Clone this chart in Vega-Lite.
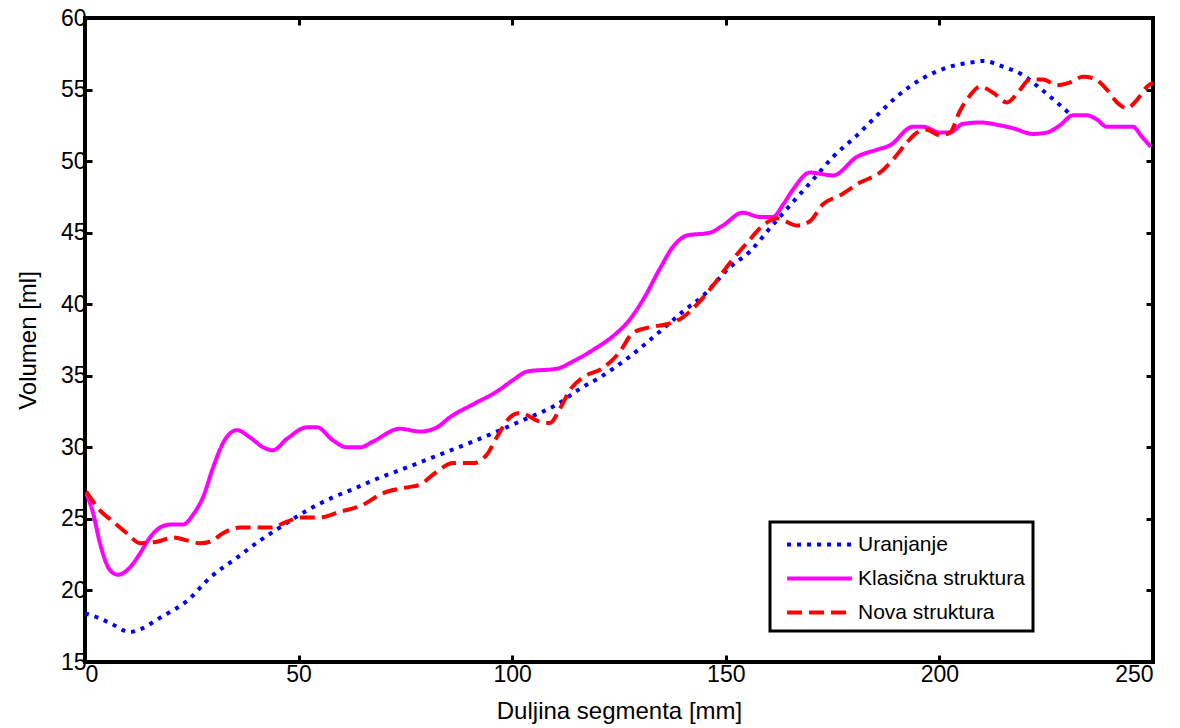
{
  "$schema": "https://vega.github.io/schema/vega-lite/v6.json",
  "width": 1068,
  "height": 644,
  "autosize": {"type": "none"},
  "padding": {"left": 85, "top": 18, "right": 27, "bottom": 66},
  "background": "white",
  "config": {
    "font": "Liberation Sans",
    "view": {"stroke": "black", "strokeWidth": 4, "fill": "white"},
    "axis": {
      "domain": false,
      "grid": false,
      "tickColor": "black",
      "tickWidth": 3,
      "tickSize": -7,
      "labelFont": "Liberation Sans",
      "labelFontSize": 23,
      "labelColor": "black",
      "titleFont": "Liberation Sans",
      "titleFontSize": 24,
      "titleFontWeight": "normal",
      "titleColor": "black"
    }
  },
  "datasets": {
    "d": [
      {"x": 0, "v": 18.4, "s": "Uranjanje"},
      {"x": 3, "v": 18.1, "s": "Uranjanje"},
      {"x": 6, "v": 17.7, "s": "Uranjanje"},
      {"x": 10.5, "v": 17.1, "s": "Uranjanje"},
      {"x": 13, "v": 17.3, "s": "Uranjanje"},
      {"x": 17.6, "v": 18.1, "s": "Uranjanje"},
      {"x": 24, "v": 19.3, "s": "Uranjanje"},
      {"x": 29.3, "v": 20.9, "s": "Uranjanje"},
      {"x": 35.6, "v": 22.3, "s": "Uranjanje"},
      {"x": 41, "v": 23.5, "s": "Uranjanje"},
      {"x": 45.6, "v": 24.4, "s": "Uranjanje"},
      {"x": 52, "v": 25.6, "s": "Uranjanje"},
      {"x": 58, "v": 26.5, "s": "Uranjanje"},
      {"x": 63.7, "v": 27.2, "s": "Uranjanje"},
      {"x": 67.5, "v": 27.7, "s": "Uranjanje"},
      {"x": 75.4, "v": 28.6, "s": "Uranjanje"},
      {"x": 83.1, "v": 29.5, "s": "Uranjanje"},
      {"x": 90.8, "v": 30.4, "s": "Uranjanje"},
      {"x": 96.4, "v": 31.1, "s": "Uranjanje"},
      {"x": 102.5, "v": 31.9, "s": "Uranjanje"},
      {"x": 110.5, "v": 33.0, "s": "Uranjanje"},
      {"x": 115.9, "v": 34.1, "s": "Uranjanje"},
      {"x": 120.6, "v": 34.9, "s": "Uranjanje"},
      {"x": 126.9, "v": 36.2, "s": "Uranjanje"},
      {"x": 134.6, "v": 38.1, "s": "Uranjanje"},
      {"x": 140, "v": 39.5, "s": "Uranjanje"},
      {"x": 144.7, "v": 40.6, "s": "Uranjanje"},
      {"x": 151, "v": 42.6, "s": "Uranjanje"},
      {"x": 155.7, "v": 43.7, "s": "Uranjanje"},
      {"x": 160.3, "v": 45.3, "s": "Uranjanje"},
      {"x": 165, "v": 46.9, "s": "Uranjanje"},
      {"x": 170.4, "v": 48.7, "s": "Uranjanje"},
      {"x": 175.1, "v": 50.3, "s": "Uranjanje"},
      {"x": 180.7, "v": 51.8, "s": "Uranjanje"},
      {"x": 186.1, "v": 53.4, "s": "Uranjanje"},
      {"x": 190, "v": 54.5, "s": "Uranjanje"},
      {"x": 196.2, "v": 55.8, "s": "Uranjanje"},
      {"x": 202.5, "v": 56.6, "s": "Uranjanje"},
      {"x": 207.6, "v": 56.9, "s": "Uranjanje"},
      {"x": 210.2, "v": 57.0, "s": "Uranjanje"},
      {"x": 214.9, "v": 56.6, "s": "Uranjanje"},
      {"x": 219.6, "v": 56.0, "s": "Uranjanje"},
      {"x": 223.5, "v": 55.1, "s": "Uranjanje"},
      {"x": 227.5, "v": 54.1, "s": "Uranjanje"},
      {"x": 230.5, "v": 53.3, "s": "Uranjanje"},

      {"x": 0.3, "v": 26.8, "s": "Klasična struktura"},
      {"x": 1.9, "v": 25.4, "s": "Klasična struktura"},
      {"x": 3.5, "v": 23.3, "s": "Klasična struktura"},
      {"x": 5.9, "v": 21.4, "s": "Klasična struktura"},
      {"x": 7.7, "v": 21.1, "s": "Klasična struktura"},
      {"x": 10.5, "v": 21.6, "s": "Klasična struktura"},
      {"x": 12.9, "v": 22.6, "s": "Klasična struktura"},
      {"x": 15.2, "v": 23.7, "s": "Klasična struktura"},
      {"x": 17.6, "v": 24.4, "s": "Klasična struktura"},
      {"x": 19.9, "v": 24.6, "s": "Klasična struktura"},
      {"x": 22.9, "v": 24.6, "s": "Klasična struktura"},
      {"x": 25.3, "v": 25.3, "s": "Klasična struktura"},
      {"x": 27.6, "v": 26.5, "s": "Klasična struktura"},
      {"x": 30, "v": 28.6, "s": "Klasična struktura"},
      {"x": 32.3, "v": 30.3, "s": "Klasična struktura"},
      {"x": 35.6, "v": 31.2, "s": "Klasična struktura"},
      {"x": 38.6, "v": 30.7, "s": "Klasična struktura"},
      {"x": 41.7, "v": 30.0, "s": "Klasična struktura"},
      {"x": 44, "v": 29.8, "s": "Klasična struktura"},
      {"x": 47.3, "v": 30.6, "s": "Klasična struktura"},
      {"x": 52, "v": 31.4, "s": "Klasična struktura"},
      {"x": 54.3, "v": 31.4, "s": "Klasična struktura"},
      {"x": 58, "v": 30.5, "s": "Klasična struktura"},
      {"x": 61.3, "v": 30.0, "s": "Klasična struktura"},
      {"x": 64.4, "v": 30.0, "s": "Klasična struktura"},
      {"x": 67.4, "v": 30.4, "s": "Klasična struktura"},
      {"x": 73.7, "v": 31.3, "s": "Klasična struktura"},
      {"x": 78.4, "v": 31.1, "s": "Klasična struktura"},
      {"x": 82.4, "v": 31.4, "s": "Klasična struktura"},
      {"x": 85.4, "v": 32.1, "s": "Klasična struktura"},
      {"x": 90.8, "v": 33.0, "s": "Klasična struktura"},
      {"x": 96.4, "v": 33.9, "s": "Klasična struktura"},
      {"x": 100.2, "v": 34.7, "s": "Klasična struktura"},
      {"x": 103.5, "v": 35.3, "s": "Klasična struktura"},
      {"x": 110.5, "v": 35.5, "s": "Klasična struktura"},
      {"x": 114.2, "v": 36.0, "s": "Klasična struktura"},
      {"x": 118.9, "v": 36.8, "s": "Klasična struktura"},
      {"x": 124.5, "v": 38.0, "s": "Klasična struktura"},
      {"x": 126.9, "v": 38.7, "s": "Klasična struktura"},
      {"x": 130.6, "v": 40.3, "s": "Klasična struktura"},
      {"x": 134.6, "v": 42.5, "s": "Klasična struktura"},
      {"x": 137.6, "v": 44.0, "s": "Klasična struktura"},
      {"x": 140.9, "v": 44.8, "s": "Klasična struktura"},
      {"x": 146.3, "v": 45.0, "s": "Klasična struktura"},
      {"x": 149.3, "v": 45.5, "s": "Klasična struktura"},
      {"x": 154, "v": 46.4, "s": "Klasična struktura"},
      {"x": 158, "v": 46.1, "s": "Klasična struktura"},
      {"x": 161, "v": 46.1, "s": "Klasična struktura"},
      {"x": 163.5, "v": 47.0, "s": "Klasična struktura"},
      {"x": 165.7, "v": 48.0, "s": "Klasična struktura"},
      {"x": 169.7, "v": 49.2, "s": "Klasična struktura"},
      {"x": 175.1, "v": 49.0, "s": "Klasična struktura"},
      {"x": 180.7, "v": 50.3, "s": "Klasična struktura"},
      {"x": 185.4, "v": 50.8, "s": "Klasična struktura"},
      {"x": 188.4, "v": 51.1, "s": "Klasična struktura"},
      {"x": 193.8, "v": 52.4, "s": "Klasična struktura"},
      {"x": 196.2, "v": 52.4, "s": "Klasična struktura"},
      {"x": 200.1, "v": 52.0, "s": "Klasična struktura"},
      {"x": 202.5, "v": 52.0, "s": "Klasična struktura"},
      {"x": 205.5, "v": 52.6, "s": "Klasična struktura"},
      {"x": 209.5, "v": 52.7, "s": "Klasična struktura"},
      {"x": 214.2, "v": 52.5, "s": "Klasična struktura"},
      {"x": 217.2, "v": 52.3, "s": "Klasična struktura"},
      {"x": 221.9, "v": 51.9, "s": "Klasična struktura"},
      {"x": 225.2, "v": 52.0, "s": "Klasična struktura"},
      {"x": 228.2, "v": 52.5, "s": "Klasična struktura"},
      {"x": 231.3, "v": 53.2, "s": "Klasična struktura"},
      {"x": 234.5, "v": 53.2, "s": "Klasična struktura"},
      {"x": 236.9, "v": 52.9, "s": "Klasična struktura"},
      {"x": 239.2, "v": 52.4, "s": "Klasična struktura"},
      {"x": 243, "v": 52.4, "s": "Klasična struktura"},
      {"x": 245.3, "v": 52.4, "s": "Klasična struktura"},
      {"x": 247.4, "v": 51.7, "s": "Klasična struktura"},
      {"x": 249.5, "v": 51.0, "s": "Klasična struktura"},

      {"x": 0.3, "v": 26.9, "s": "Nova struktura"},
      {"x": 3.5, "v": 25.6, "s": "Nova struktura"},
      {"x": 6.6, "v": 24.8, "s": "Nova struktura"},
      {"x": 9.8, "v": 24.0, "s": "Nova struktura"},
      {"x": 12.9, "v": 23.3, "s": "Nova struktura"},
      {"x": 16.9, "v": 23.4, "s": "Nova struktura"},
      {"x": 20.6, "v": 23.7, "s": "Nova struktura"},
      {"x": 23.9, "v": 23.5, "s": "Nova struktura"},
      {"x": 26.9, "v": 23.3, "s": "Nova struktura"},
      {"x": 29.3, "v": 23.4, "s": "Nova struktura"},
      {"x": 32.3, "v": 24.0, "s": "Nova struktura"},
      {"x": 36.3, "v": 24.4, "s": "Nova struktura"},
      {"x": 40.3, "v": 24.4, "s": "Nova struktura"},
      {"x": 43.3, "v": 24.4, "s": "Nova struktura"},
      {"x": 47.3, "v": 24.8, "s": "Nova struktura"},
      {"x": 50.3, "v": 25.1, "s": "Nova struktura"},
      {"x": 55, "v": 25.1, "s": "Nova struktura"},
      {"x": 59.7, "v": 25.5, "s": "Nova struktura"},
      {"x": 64.5, "v": 25.9, "s": "Nova struktura"},
      {"x": 69.8, "v": 26.8, "s": "Nova struktura"},
      {"x": 75.4, "v": 27.2, "s": "Nova struktura"},
      {"x": 78.4, "v": 27.4, "s": "Nova struktura"},
      {"x": 82.4, "v": 28.3, "s": "Nova struktura"},
      {"x": 86.1, "v": 28.9, "s": "Nova struktura"},
      {"x": 90.8, "v": 28.9, "s": "Nova struktura"},
      {"x": 94.1, "v": 29.5, "s": "Nova struktura"},
      {"x": 96.4, "v": 30.7, "s": "Nova struktura"},
      {"x": 99.5, "v": 32.1, "s": "Nova struktura"},
      {"x": 101.8, "v": 32.4, "s": "Nova struktura"},
      {"x": 106.5, "v": 31.8, "s": "Nova struktura"},
      {"x": 108.8, "v": 31.7, "s": "Nova struktura"},
      {"x": 111.2, "v": 32.7, "s": "Nova struktura"},
      {"x": 113.5, "v": 34.0, "s": "Nova struktura"},
      {"x": 116.6, "v": 34.9, "s": "Nova struktura"},
      {"x": 121, "v": 35.5, "s": "Nova struktura"},
      {"x": 125, "v": 36.6, "s": "Nova struktura"},
      {"x": 128.3, "v": 38.0, "s": "Nova struktura"},
      {"x": 132.3, "v": 38.4, "s": "Nova struktura"},
      {"x": 136.2, "v": 38.6, "s": "Nova struktura"},
      {"x": 140, "v": 39.1, "s": "Nova struktura"},
      {"x": 143.3, "v": 40.0, "s": "Nova struktura"},
      {"x": 147, "v": 41.3, "s": "Nova struktura"},
      {"x": 151, "v": 42.9, "s": "Nova struktura"},
      {"x": 155, "v": 44.3, "s": "Nova struktura"},
      {"x": 158.7, "v": 45.5, "s": "Nova struktura"},
      {"x": 162, "v": 46.0, "s": "Nova struktura"},
      {"x": 166.7, "v": 45.5, "s": "Nova struktura"},
      {"x": 169.7, "v": 45.8, "s": "Nova struktura"},
      {"x": 172.8, "v": 47.0, "s": "Nova struktura"},
      {"x": 176.7, "v": 47.6, "s": "Nova struktura"},
      {"x": 181.4, "v": 48.5, "s": "Nova struktura"},
      {"x": 186.1, "v": 49.2, "s": "Nova struktura"},
      {"x": 189.1, "v": 50.1, "s": "Nova struktura"},
      {"x": 192.4, "v": 51.3, "s": "Nova struktura"},
      {"x": 194.8, "v": 52.0, "s": "Nova struktura"},
      {"x": 197.1, "v": 52.2, "s": "Nova struktura"},
      {"x": 200.1, "v": 51.8, "s": "Nova struktura"},
      {"x": 202.5, "v": 52.0, "s": "Nova struktura"},
      {"x": 204.8, "v": 53.5, "s": "Nova struktura"},
      {"x": 207.2, "v": 54.6, "s": "Nova struktura"},
      {"x": 209.5, "v": 55.2, "s": "Nova struktura"},
      {"x": 212.5, "v": 54.8, "s": "Nova struktura"},
      {"x": 215.8, "v": 54.1, "s": "Nova struktura"},
      {"x": 218.4, "v": 54.8, "s": "Nova struktura"},
      {"x": 221.2, "v": 55.7, "s": "Nova struktura"},
      {"x": 224.3, "v": 55.7, "s": "Nova struktura"},
      {"x": 227.5, "v": 55.3, "s": "Nova struktura"},
      {"x": 230.6, "v": 55.5, "s": "Nova struktura"},
      {"x": 233.6, "v": 55.9, "s": "Nova struktura"},
      {"x": 236, "v": 55.8, "s": "Nova struktura"},
      {"x": 239.2, "v": 55.0, "s": "Nova struktura"},
      {"x": 241.6, "v": 54.1, "s": "Nova struktura"},
      {"x": 243.9, "v": 53.7, "s": "Nova struktura"},
      {"x": 246.3, "v": 54.3, "s": "Nova struktura"},
      {"x": 248.6, "v": 55.2, "s": "Nova struktura"},
      {"x": 250, "v": 55.5, "s": "Nova struktura"}
    ]
  },
  "data": {"name": "d"},
  "layer": [
    {
      "mark": {"type": "line", "interpolate": "monotone", "strokeWidth": 4, "strokeCap": "butt", "clip": true},
      "encoding": {
        "x": {
          "field": "x", "type": "quantitative",
          "scale": {"domain": [0, 250], "nice": false, "zero": false},
          "axis": {"orient": "bottom", "values": [0, 50, 100, 150, 200, 250], "title": "Duljina segmenta  [mm]", "labelPadding": 8, "titlePadding": 13}
        },
        "y": {
          "field": "v", "type": "quantitative",
          "scale": {"domain": [15, 60], "nice": false, "zero": false},
          "axis": {"orient": "left", "values": [15, 20, 25, 30, 35, 40, 45, 50, 55, 60], "title": "Volumen [ml]", "labelPadding": 6, "titlePadding": 20}
        },
        "color": {
          "field": "s", "type": "nominal",
          "scale": {"domain": ["Uranjanje", "Klasična struktura", "Nova struktura"], "range": ["#0000ff", "#ff00ff", "#ff0000"]},
          "legend": {
            "title": null,
            "orient": "none",
            "legendX": 685,
            "legendY": 504,
            "fillColor": "white",
            "strokeColor": "black",
            "padding": 8,
            "symbolType": "M-2.65,0H2.65",
            "symbolSize": 600,
            "symbolOffset": 27,
            "symbolStrokeWidth": 4,
            "labelFontSize": 21,
            "labelFont": "Liberation Sans",
            "labelColor": "black",
            "labelOffset": 24,
            "rowPadding": 9,
            "labelLimit": 400,
            "encode": {"legend": {"update": {"strokeWidth": {"value": 3}}}}
          }
        },
        "strokeDash": {
          "field": "s", "type": "nominal",
          "scale": {"domain": ["Uranjanje", "Klasična struktura", "Nova struktura"], "range": [[4, 6], [1, 0], [15, 7]]},
          "legend": null
        }
      }
    },
    {
      "mark": {"type": "point", "opacity": 0},
      "encoding": {
        "x": {"field": "x", "type": "quantitative", "axis": {"orient": "top", "values": [0, 50, 100, 150, 200, 250], "labels": false, "title": null}},
        "y": {"field": "v", "type": "quantitative", "axis": {"orient": "right", "values": [15, 20, 25, 30, 35, 40, 45, 50, 55, 60], "labels": false, "title": null}}
      }
    }
  ],
  "resolve": {"axis": {"x": "independent", "y": "independent"}}
}
